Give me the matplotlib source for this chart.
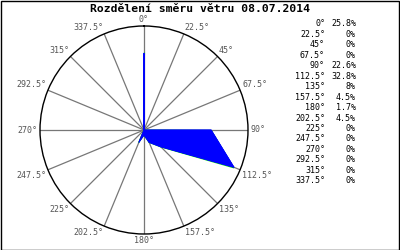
import matplotlib
matplotlib.use('Agg')
import matplotlib.pyplot as plt
import numpy as np

# smery (stupne) a podil v procentech
directions = [0, 22.5, 45, 67.5, 90, 112.5, 135, 157.5, 180, 202.5,
              225, 247.5, 270, 292.5, 315, 337.5]
shares = [25.8, 0, 0, 0, 22.6, 32.8, 8, 4.5, 1.7, 4.5,
          0, 0, 0, 0, 0, 0]
share_labels = ["25.8%", "0%", "0%", "0%", "22.6%", "32.8%", "8%", "4.5%",
                "1.7%", "4.5%", "0%", "0%", "0%", "0%", "0%", "0%"]
dir_labels = [f"{d:g}°" for d in directions]
r_max = 35

W, H = 400, 250
fig = plt.figure(figsize=(4, 2.5), dpi=100)
fig.patch.set_facecolor('white')

# ramecek kolem obrazku
frame = plt.Rectangle((0.5 / W, 0.5 / H), 1 - 1.5 / W, 1 - 1.5 / H,
                      transform=fig.transFigure, fill=False,
                      edgecolor='black', linewidth=1)
fig.add_artist(frame)

fig.text(0.5, 1 - 8.5 / H, "Rozdělení směru větru 08.07.2014",
         ha='center', va='center', fontsize=8.2, fontweight='bold',
         family='DejaVu Sans Mono')

cx, cy, rad = 144, 130, 104
ax = fig.add_axes([(cx - rad) / W, (H - cy - rad) / H, 2 * rad / W, 2 * rad / H],
                  projection='polar')
ax.set_theta_zero_location('N')
ax.set_theta_direction(-1)
ax.set_ylim(0, r_max)
ax.grid(False)
ax.set_xticks([])
ax.set_yticks([])
ax.spines['polar'].set_color('black')
ax.spines['polar'].set_linewidth(1)

theta = np.deg2rad(directions)
for t in theta:
    ax.plot([t, t], [0, r_max], color='#777777', lw=0.9, zorder=1)

# radar plocha
tt = np.append(theta, theta[0])
rr = np.append(shares, shares[0])
ax.plot(tt + 0.006, rr, color='#00dd00', lw=0.8, zorder=2)
ax.fill(tt, rr, color='#0000ff', lw=0.6, zorder=3)
ax.plot(tt, rr, color='#0000ff', lw=0.6, zorder=3)

for t, lab in zip(theta, dir_labels):
    s, c = np.sin(t), np.cos(t)
    ha = 'left' if s > 0.1 else ('right' if s < -0.1 else 'center')
    va = 'bottom' if c > 0.1 else ('top' if c < -0.1 else 'center')
    ax.text(t, r_max * 1.02, lab, ha=ha, va=va, fontsize=6,
            color='#555555', family='DejaVu Sans Mono', clip_on=False)

# legenda vpravo
y0, dy = 24, 10.45
for i, (dl, sl) in enumerate(zip(dir_labels, share_labels)):
    y = 1 - (y0 + i * dy) / H
    fig.text(325 / W, y, dl, ha='right', va='center', fontsize=6,
             family='DejaVu Sans Mono')
    fig.text(356 / W, y, sl, ha='right', va='center', fontsize=6,
             family='DejaVu Sans Mono')

fig.savefig('out.png', dpi=100)
